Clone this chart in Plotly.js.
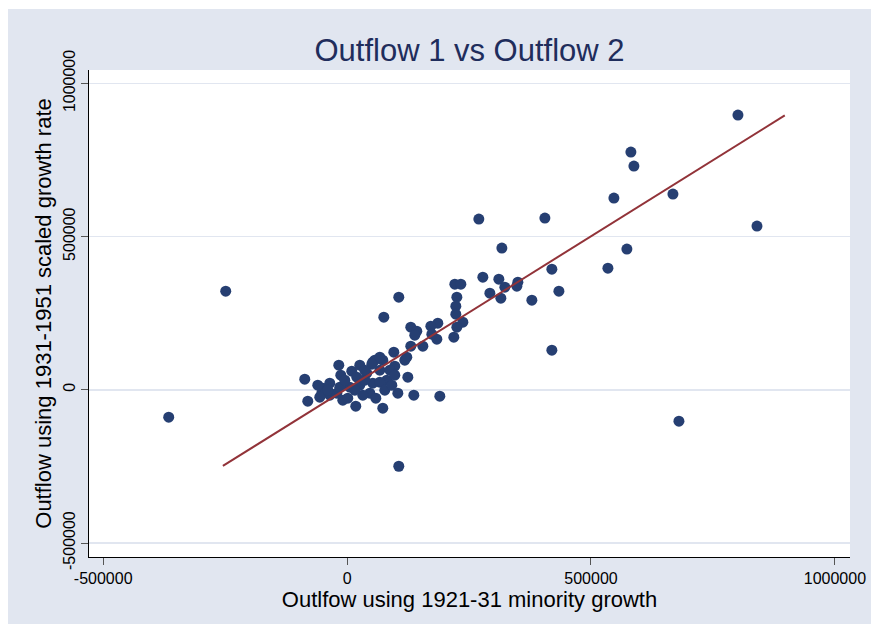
<!DOCTYPE html>
<html>
<head>
<meta charset="utf-8">
<script src="https://cdn.plot.ly/plotly-3.0.1.min.js"></script>
<style>
  html, body { margin: 0; padding: 0; background: #ffffff; }
  #chart { position: absolute; left: 8px; top: 9px; width: 863px; height: 615px; }
</style>
</head>
<body>
<div id="chart"></div>
<script>
// Scatter data: outflow using 1921-31 minority growth (x) vs outflow using 1931-1951 scaled growth rate (y)
const xVals = [
  801300, 840300, 581800, 588000, 668000, 547000, 573600, 534700, 680300, 405500,
  270100, 419800, 434200, 419800, 378800, 317300, -248800, -365700, 106000, 106000,
  75300, 278300, 311100, 323400, 292700, 315200, 350100, 348000, 220900, 233200,
  225000, 222900, 222900, 237300, 225000, 218800, 186000, 171700, 184000, 173700,
  130600, 142900, 138800, 155300, 130600, 122400, 95800, 97800, 124500, 73200,
  52700, 67100, -86800, -80600, -17000, 9600, -12900, 17800, 73200, 104000,
  136800, 190100, 56800, 67100, 50700, 87600, 81400, 46600, 26000, -8800,
  -49800, -51900, -35500, -21100, 5500, 40400, 19900, 52700, 67100, 32200,
  -15000, -35500, -56000, 118300, 36300, -4700, -39600, 15800, 77300, 97800,
  26000, 1400, 58900, 91700, -60100, 36300
];
const yVals = [
  896600, 534200, 775800, 730100, 638700, 625600, 459100, 397000, -102500, 560300,
  557000, 393800, 321900, 129300, 292600, 462400, 321900, -89500, -249500, 302400,
  237100, 367700, 361100, 335000, 315400, 299100, 351300, 338300, 344800, 344800,
  302400, 273000, 246800, 220700, 204400, 171700, 217500, 207700, 165200, 181500,
  204400, 191300, 178300, 142400, 142400, 106400, 122800, 77100, 41100, 96600,
  90100, 64000, 34600, -37200, 80300, 60700, 47700, -53500, -60100, -11100,
  -17600, -20900, 96600, 106400, 83600, 64000, 31300, -11100, 15000, -34000,
  5200, -11100, 21500, -11100, 8500, 54200, 41100, 21500, 24800, -17600,
  8500, -17600, -24200, 96600, 31300, 31300, -1300, -1300, -1300, 47700,
  80300, -27400, -27400, 15000, 15000, 64000
];
// Fitted line end points
const fitX = [-254600, 897300];
const fitY = [-248400, 895400];

const xTickVals = [-500000, 0, 500000, 1000000];
const xTickText = ["-500000", "0", "500000", "1000000"];
const yTickVals = [-500000, 0, 500000, 1000000];
const yTickText = ["-500000", "0", "500000", "1000000"];

const FONT = "Liberation Sans, Arial, sans-serif";

const traces = [
  {
    type: "scatter", mode: "markers",
    x: xVals, y: yVals,
    marker: { color: "#263f72", size: 11, line: { width: 0 } },
    hoverinfo: "x+y", showlegend: false
  },
  {
    type: "scatter", mode: "lines",
    x: fitX, y: fitY,
    line: { color: "#923339", width: 2 },
    showlegend: false
  }
];

const layout = {
  width: 863, height: 615,
  margin: { l: 81, r: 21, t: 61, b: 67 },
  paper_bgcolor: "#e1e6f0",
  plot_bgcolor: "#ffffff",
  font: { family: FONT, color: "#000000" },
  title: {
    text: "Outflow 1 vs Outflow 2",
    font: { family: FONT, size: 31, color: "#1f2d5c" },
    x: 0.5, xref: "paper", xanchor: "center",
    y: 0.933, yref: "container", yanchor: "middle"
  },
  xaxis: {
    range: [-529100, 1031000],
    tickvals: xTickVals, ticktext: xTickText,
    ticks: "outside", ticklen: 7, tickwidth: 1, tickcolor: "#555555",
    showline: true, linecolor: "#000000", linewidth: 1,
    showgrid: false, zeroline: false,
    tickfont: { family: FONT, size: 16, color: "#000000" },
    title: { text: "Outlfow using 1921-31 minority growth", font: { family: FONT, size: 22, color: "#000000" }, standoff: 1 }
  },
  yaxis: {
    range: [-545600, 1043600],
    tickvals: yTickVals, ticktext: yTickText,
    tickangle: -90,
    ticks: "outside", ticklen: 7, tickwidth: 1, tickcolor: "#555555",
    showline: true, linecolor: "#000000", linewidth: 1,
    showgrid: true, gridcolor: "#e1e6f0", gridwidth: 1.5,
    zeroline: false,
    tickfont: { family: FONT, size: 16, color: "#000000" },
    title: { text: "Outflow using 1931-1951 scaled growth rate", font: { family: FONT, size: 22, color: "#000000" }, standoff: 2 }
  }
};

Plotly.newPlot("chart", traces, layout, { displayModeBar: false, staticPlot: true });
</script>
</body>
</html>
